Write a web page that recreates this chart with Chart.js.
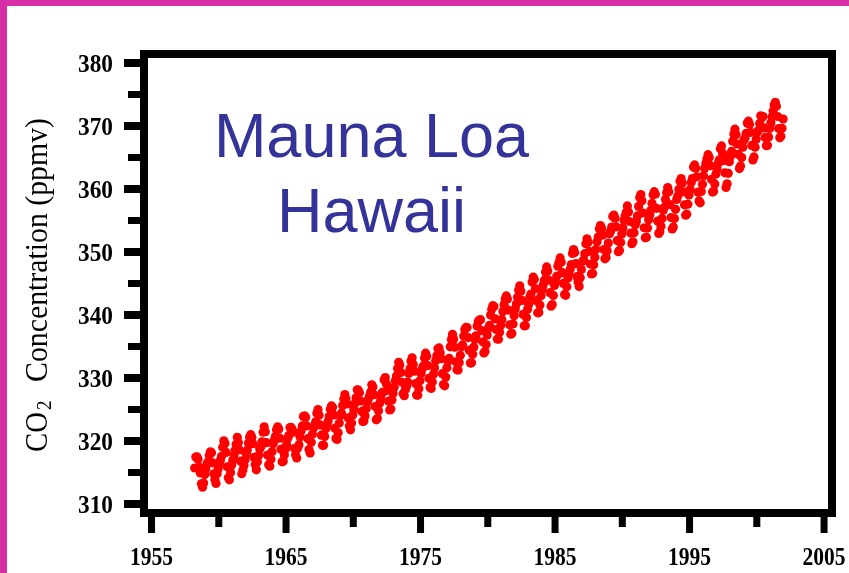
<!DOCTYPE html>
<html>
<head>
<meta charset="utf-8">
<script src="https://cdn.jsdelivr.net/npm/chart.js@4.4.1/dist/chart.umd.min.js"></script>
<style>
  html, body { margin: 0; padding: 0; background: #fff; }
  canvas { display: block; }
</style>
</head>
<body>
<canvas id="co2Chart" width="849" height="573"></canvas>
<script>
// Mauna Loa monthly CO2 (ppmv), one row per year, Jan..Dec
const firstYear = 1958;
const co2ByYear = [
  [null, null, 315.71, 317.45, 317.50, 317.10, 315.86, 314.93, 313.20, 312.66, 313.33, 314.67],
  [315.62, 316.38, 316.71, 317.72, 318.29, 318.15, 316.54, 314.80, 313.84, 313.26, 314.80, 315.58],
  [316.43, 316.97, 317.58, 319.02, 320.03, 319.59, 318.18, 315.91, 314.16, 313.83, 315.00, 316.19],
  [316.93, 317.70, 318.54, 319.48, 320.58, 319.77, 318.57, 316.79, 314.80, 315.38, 316.10, 317.01],
  [317.94, 318.56, 319.68, 320.63, 321.01, 320.55, 319.58, 317.40, 316.26, 315.42, 316.69, 317.69],
  [318.74, 319.08, 319.86, 321.39, 322.25, 321.47, 319.74, 317.77, 316.21, 315.99, 317.12, 318.31],
  [319.57, 320.07, 320.73, 321.77, 322.25, 321.89, 320.44, 318.70, 316.70, 316.79, 317.79, 318.71],
  [319.44, 320.44, 320.89, 322.13, 322.16, 321.87, 321.39, 318.81, 317.81, 317.30, 318.87, 319.42],
  [320.62, 321.59, 322.39, 323.87, 324.01, 323.75, 322.39, 320.37, 318.64, 318.10, 319.79, 321.08],
  [322.07, 322.50, 323.04, 324.42, 325.00, 324.09, 322.55, 320.92, 319.31, 319.31, 320.72, 321.96],
  [322.57, 323.15, 323.89, 325.02, 325.57, 325.36, 324.14, 322.03, 320.41, 320.25, 321.31, 322.84],
  [324.00, 324.42, 325.64, 326.66, 327.38, 326.70, 325.89, 323.67, 322.38, 321.78, 322.85, 324.12],
  [325.03, 325.99, 326.87, 328.13, 328.07, 327.66, 326.35, 324.69, 323.10, 323.16, 323.98, 325.13],
  [326.17, 326.68, 327.18, 327.78, 328.92, 328.57, 327.34, 325.46, 323.36, 323.57, 324.80, 326.01],
  [326.77, 327.63, 327.75, 329.72, 330.07, 329.09, 328.05, 326.32, 324.93, 325.06, 326.50, 327.55],
  [328.54, 329.56, 330.30, 331.50, 332.48, 332.07, 330.87, 329.31, 327.51, 327.18, 328.16, 328.64],
  [329.35, 330.71, 331.48, 332.65, 333.20, 332.16, 331.07, 329.12, 327.32, 327.28, 328.30, 329.58],
  [330.73, 331.46, 331.90, 333.17, 333.94, 333.45, 331.97, 329.95, 328.50, 328.34, 329.37, 330.58],
  [331.59, 332.75, 333.52, 334.64, 334.77, 334.00, 333.06, 330.68, 328.95, 328.75, 330.15, 331.62],
  [332.66, 333.13, 334.95, 336.13, 336.93, 336.17, 334.88, 332.56, 331.29, 331.27, 332.41, 333.60],
  [334.95, 335.25, 336.66, 337.69, 338.03, 338.01, 336.41, 334.41, 332.37, 332.41, 333.75, 334.90],
  [336.14, 336.69, 338.27, 338.96, 339.21, 339.26, 337.54, 335.75, 333.98, 334.19, 335.31, 336.81],
  [337.90, 338.34, 340.01, 340.93, 341.48, 341.33, 339.40, 337.70, 336.19, 336.15, 337.27, 338.32],
  [339.29, 340.55, 341.61, 342.53, 343.03, 342.54, 340.78, 338.44, 336.95, 337.08, 338.58, 339.88],
  [340.96, 341.73, 342.81, 343.97, 344.63, 343.79, 342.32, 340.09, 338.28, 338.29, 339.60, 340.90],
  [341.68, 342.90, 343.33, 345.25, 346.03, 345.63, 344.19, 342.27, 340.35, 340.38, 341.59, 343.05],
  [344.10, 344.79, 345.52, 346.84, 347.63, 346.98, 345.53, 343.55, 341.40, 341.67, 343.10, 344.70],
  [345.21, 346.16, 347.74, 348.34, 349.06, 348.38, 346.72, 345.02, 343.27, 343.13, 344.49, 345.88],
  [346.56, 347.28, 348.01, 349.77, 350.38, 349.93, 348.16, 346.08, 345.22, 344.51, 345.93, 347.22],
  [348.52, 348.73, 349.73, 351.31, 352.09, 351.53, 350.11, 348.08, 346.52, 346.59, 347.96, 349.16],
  [350.39, 351.64, 352.40, 353.69, 354.21, 353.72, 352.69, 350.40, 348.92, 349.13, 350.20, 351.41],
  [352.91, 353.27, 353.96, 355.64, 355.86, 355.37, 353.99, 351.81, 350.05, 350.25, 351.49, 352.85],
  [353.80, 355.04, 355.73, 356.32, 357.32, 356.34, 354.84, 353.01, 351.31, 351.62, 353.07, 354.33],
  [354.84, 355.73, 357.23, 358.66, 359.13, 358.13, 356.19, 353.85, 352.25, 352.35, 353.81, 355.12],
  [355.89, 356.63, 357.72, 359.07, 359.58, 359.17, 356.94, 354.92, 352.94, 353.23, 354.09, 355.33],
  [356.63, 357.10, 358.32, 359.41, 360.23, 359.55, 357.53, 355.48, 353.67, 353.95, 355.30, 356.78],
  [358.34, 358.89, 359.95, 361.25, 361.67, 360.94, 359.55, 357.49, 355.84, 356.00, 357.59, 359.05],
  [359.98, 361.03, 361.66, 363.48, 363.82, 363.30, 361.94, 359.50, 358.11, 357.80, 359.61, 360.74],
  [362.09, 363.29, 364.06, 364.76, 365.45, 365.01, 363.70, 361.54, 359.51, 359.65, 360.80, 362.38],
  [363.23, 364.06, 364.61, 366.40, 366.84, 365.68, 364.52, 362.57, 360.24, 360.83, 362.49, 364.34],
  [365.18, 365.98, 367.59, 368.75, 369.49, 368.61, 367.14, 365.51, 363.24, 363.67, 365.00, 366.64],
  [367.76, 368.10, 368.85, 370.46, 370.77, 370.24, 368.99, 366.91, 364.60, 365.09, 366.63, 367.90],
  [369.04, 369.31, 370.38, 371.63, 371.32, 371.51, 369.69, 368.18, 366.87, 366.94, 368.27, 369.62],
  [370.47, 371.44, 372.39, 373.32, 373.77, 373.13, 371.51, 369.59, 368.12, 368.38, 369.64, 371.11]
];

const xMajorTicks = [1955, 1965, 1975, 1985, 1995, 2005];
const xMinorTicks = [1960, 1970, 1980, 1990, 2000];
const yMajorTicks = [310, 320, 330, 340, 350, 360, 370, 380];
const yMinorTicks = [315, 325, 335, 345, 355, 365, 375];
const stationLines = ["Mauna Loa", "Hawaii"];

const points = [];
co2ByYear.forEach((row, yi) => {
  row.forEach((v, m) => {
    if (v !== null) points.push({ x: firstYear + yi + (m + 0.5) / 12, y: v });
  });
});

const MAGENTA = "#d62fa6";
const SERIF = "'Liberation Serif', 'Times New Roman', serif";

function squeezed(ctx, text, x, y, sx, align) {
  const w = ctx.measureText(text).width * sx;
  const left = align === "right" ? x - w : align === "center" ? x - w / 2 : x;
  ctx.save();
  ctx.translate(left, y);
  ctx.scale(sx, 1);
  ctx.textAlign = "left";
  ctx.fillText(text, 0, 0);
  ctx.restore();
  return w;
}

const decorations = {
  id: "decorations",
  beforeDraw(chart) {
    const ctx = chart.ctx;
    ctx.save();
    ctx.fillStyle = "#fff";
    ctx.fillRect(0, 0, chart.width, chart.height);
    ctx.fillStyle = MAGENTA;
    ctx.fillRect(0, 0, chart.width, 6);
    ctx.fillRect(0, 0, 7, chart.height);
    ctx.restore();
  },
  afterDatasetsDraw(chart) {
    const ctx = chart.ctx;
    const { left, right, top, bottom } = chart.chartArea;
    const xs = chart.scales.x, ys = chart.scales.y;
    ctx.save();

    // frame
    ctx.strokeStyle = "#000";
    ctx.lineWidth = 8;
    ctx.strokeRect(left, top, right - left, bottom - top);

    // tick marks
    ctx.fillStyle = "#000";
    yMajorTicks.forEach(v => {
      const p = ys.getPixelForValue(v);
      ctx.fillRect(left - 20, p - 4, 20, 8);
    });
    yMinorTicks.forEach(v => {
      const p = ys.getPixelForValue(v);
      ctx.fillRect(left - 16, p - 3.5, 16, 7);
    });
    xMajorTicks.forEach(v => {
      const p = xs.getPixelForValue(v);
      ctx.fillRect(p - 3.5, bottom, 7, 20);
    });
    xMinorTicks.forEach(v => {
      const p = xs.getPixelForValue(v);
      ctx.fillRect(p - 3.5, bottom, 7, 14);
    });

    // tick labels
    ctx.font = "bold 25px " + SERIF;
    ctx.textBaseline = "alphabetic";
    yMajorTicks.forEach(v => {
      const txt = String(v);
      squeezed(ctx, txt, 113, ys.getPixelForValue(v) + 9, 35 / ctx.measureText(txt).width, "right");
    });
    xMajorTicks.forEach(v => {
      const txt = String(v);
      squeezed(ctx, txt, xs.getPixelForValue(v), 565, 43 / ctx.measureText(txt).width, "center");
    });

    // y axis title, rotated, reading upward
    ctx.save();
    ctx.translate(47, 452);
    ctx.rotate(-Math.PI / 2);
    ctx.font = "32px " + SERIF;
    const coW = ctx.measureText("CO").width;
    squeezed(ctx, "CO", 0, 0, 40 / coW, "left");
    ctx.font = "21px " + SERIF;
    squeezed(ctx, "2", 42, 4, 0.9, "left");
    ctx.font = "32px " + SERIF;
    const label = "Concentration (ppmv)";
    const lw = ctx.measureText(label).width;
    squeezed(ctx, label, 70, 0, 264 / lw, "left");
    ctx.restore();

    // station label
    ctx.fillStyle = "#333399";
    ctx.font = "63px 'Liberation Sans', Arial, sans-serif";
    ctx.textAlign = "center";
    ctx.fillText(stationLines[0], 371.5, 157);
    ctx.fillText(stationLines[1], 371.5, 232);

    ctx.restore();
  }
};

new Chart(document.getElementById("co2Chart"), {
  type: "scatter",
  data: {
    datasets: [{
      data: points,
      pointRadius: 4.6,
      pointHoverRadius: 4.6,
      pointBackgroundColor: "#ff0000",
      pointBorderWidth: 0,
      showLine: false
    }]
  },
  options: {
    responsive: false,
    animation: false,
    devicePixelRatio: 1,
    layout: { padding: { top: 54, right: 17, left: 0, bottom: 0 } },
    plugins: { legend: { display: false }, tooltip: { enabled: false } },
    scales: {
      x: {
        type: "linear",
        min: 1954.44,
        max: 2005.59,
        grid: { display: false },
        border: { display: false },
        ticks: { display: false },
        afterFit(s) { s.height = 60; }
      },
      y: {
        type: "linear",
        min: 308.57,
        max: 381.43,
        grid: { display: false },
        border: { display: false },
        ticks: { display: false },
        afterFit(s) { s.width = 144; }
      }
    }
  },
  plugins: [decorations]
});
</script>
</body>
</html>
